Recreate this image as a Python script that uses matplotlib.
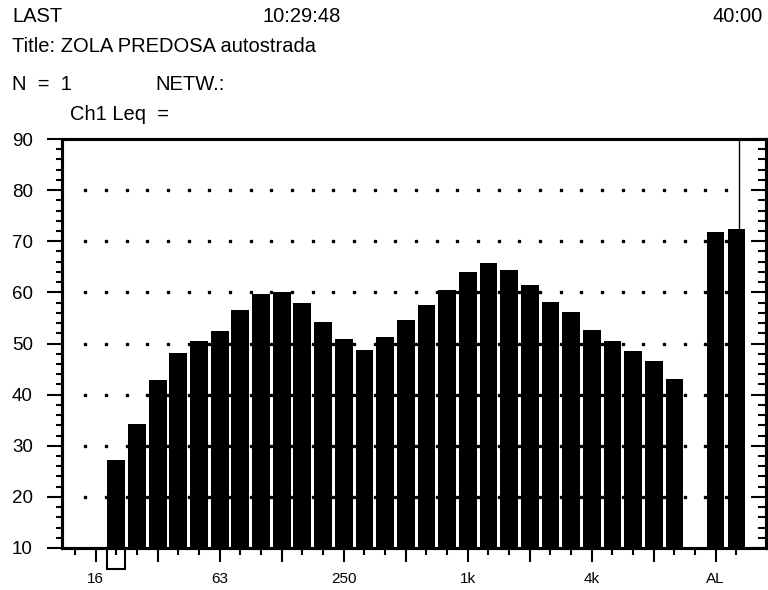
import matplotlib
matplotlib.use('Agg')
import matplotlib.pyplot as plt
from matplotlib.patches import Rectangle
import numpy as np

plt.rcParams['font.family'] = ['Liberation Sans', 'DejaVu Sans']

# 1/3 octave bands (Hz) and measured Leq (dB)
bands = ['20', '25', '31.5', '40', '50', '63', '80', '100', '125', '160',
         '200', '250', '315', '400', '500', '630', '800', '1k', '1.25k', '1.6k',
         '2k', '2.5k', '3.15k', '4k', '5k', '6.3k', '8k', '10k']
levels = [27.2, 34.3, 42.8, 48.2, 50.5, 52.5, 56.6, 59.6, 60.0, 58.0,
          54.3, 50.8, 48.7, 51.3, 54.6, 57.6, 60.5, 64.0, 65.8, 64.4,
          61.5, 58.2, 56.2, 52.6, 50.5, 48.6, 46.5, 43.1]
overall_names = ['A', 'L']
overall = [71.9, 72.3]

slots = ['12.5', '16'] + bands + ['12.5k'] + overall_names
long_ticks = ['16', '31.5', '63', '125', '250', '500', '1k', '2k', '4k', '8k', 'A']
tick_text = {'16': '16', '63': '63', '250': '250', '1k': '1k', '4k': '4k', 'A': 'AL'}

band_pos = np.array([slots.index(b) for b in bands])
overall_pos = np.array([slots.index(n) for n in overall_names])

fig = plt.figure(figsize=(7.68, 5.9), dpi=100)
ax = fig.add_axes([62 / 768, 1 - 548 / 590, (766 - 62) / 768, (548 - 139) / 590])

# dotted grid
for y in range(20, 90, 10):
    ax.plot(np.arange(len(slots) - 1) + 0.5, [y] * (len(slots) - 1), 's',
            color='black', ms=1.6, zorder=1)

ax.bar(band_pos, levels, width=0.86, bottom=0, color='black', zorder=2)
ax.bar(overall_pos, overall, width=0.82, bottom=0, color='black', zorder=2)

# cursors
ax.add_patch(Rectangle((band_pos[0] - 0.43, 5.9), 0.86, 4.1, fill=False,
                       ec='black', lw=1.5, clip_on=False, zorder=3))
ax.vlines(overall_pos[1] + 0.1, overall[1], 90, color='black', lw=1, zorder=3)

ax.set_xlim(-0.63, 33.43)
ax.set_ylim(10, 90)

for s in ax.spines.values():
    s.set_linewidth(2.2)

major = [slots.index(t) for t in long_ticks]
minor = [i for i in range(len(slots)) if i not in major]
ax.set_xticks(major)
ax.set_xticklabels([tick_text.get(t, '') for t in long_ticks])
ax.set_xticks(minor, minor=True)
ax.tick_params(axis='x', which='major', direction='out', length=10, width=1.5,
               pad=7, labelsize=11)
ax.tick_params(axis='x', which='minor', direction='out', length=5, width=1.5)

ax.set_yticks(range(10, 91, 10))
ax.set_yticks(range(10, 91, 2), minor=True)
ax.tick_params(axis='y', which='major', direction='out', length=11, width=1.5,
               pad=10, labelsize=13.5)
ax.tick_params(axis='y', which='minor', direction='out', length=4.5, width=1.5)

ax2 = ax.twinx()
ax2.set_ylim(10, 90)
ax2.set_yticks(range(10, 91, 10))
ax2.set_yticks(range(10, 91, 2), minor=True)
ax2.tick_params(axis='y', which='major', direction='in', length=11, width=1.5,
                labelright=False)
ax2.tick_params(axis='y', which='minor', direction='in', length=6, width=1.5)
for s in ax2.spines.values():
    s.set_linewidth(2.2)

# header texts
fs = 14.5
fig.text(12 / 768, 1 - 16 / 590, 'LAST', fontsize=fs, va='center')
fig.text(263 / 768, 1 - 16 / 590, '10:29:48', fontsize=fs, va='center')
fig.text(763 / 768, 1 - 16 / 590, '40:00', fontsize=fs, va='center', ha='right')
fig.text(12 / 768, 1 - 47 / 590, 'Title: ZOLA PREDOSA autostrada', fontsize=fs, va='center')
fig.text(12 / 768, 1 - 84 / 590, 'N  =  1', fontsize=fs, va='center')
fig.text(155 / 768, 1 - 84 / 590, 'NETW.:', fontsize=fs, va='center')
fig.text(70 / 768, 1 - 115 / 590, 'Ch1 Leq  =', fontsize=fs, va='center')

fig.savefig('out.png', dpi=100)
